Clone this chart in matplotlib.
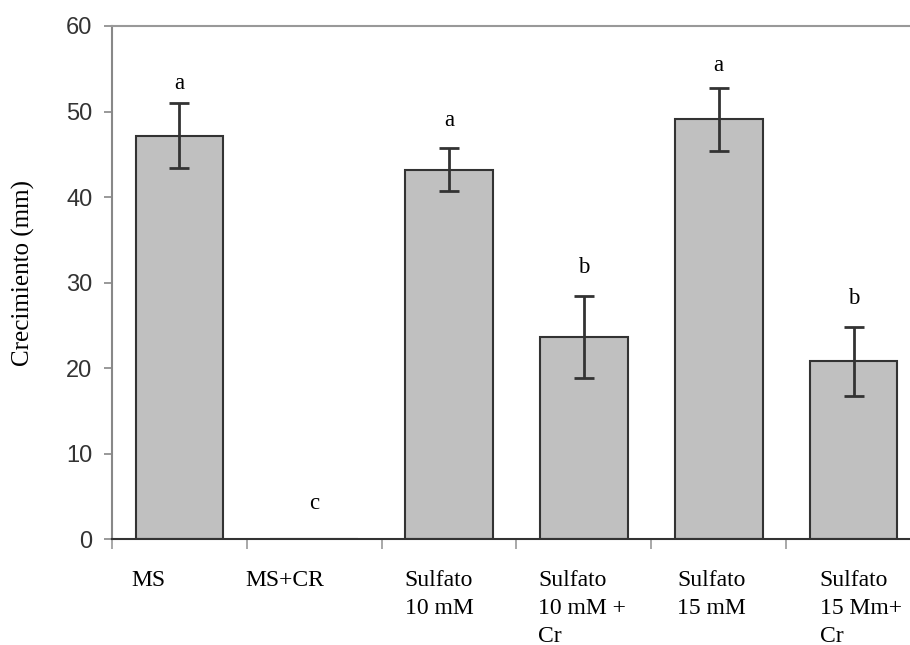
import matplotlib
matplotlib.use("Agg")
from matplotlib import pyplot as plt

# data
categories = ['MS', 'MS+CR', 'Sulfato\n10 mM', 'Sulfato\n10 mM +\nCr', 'Sulfato\n15 mM', 'Sulfato\n15 Mm+\nCr']
growth = [47.2, 0.0, 43.2, 23.6, 49.1, 20.8]
errors = [3.8, 0.0, 2.5, 4.8, 3.7, 4.0]
letters = ['a', 'c', 'a', 'b', 'a', 'b']
letter_y = [53.3, 4.2, 49.0, 31.8, 55.4, 28.2]

# small horizontal nudges of the category labels (left aligned)
label_shift = [-0.36, -0.51, -0.33, -0.34, -0.31, -0.25]

SERIF = 'Liberation Serif'
SANS = 'Liberation Sans'

fig = plt.figure(figsize=(9.10, 6.45), dpi=100)
ax = fig.add_axes([112 / 910, (645 - 539.3) / 645, (921 - 112) / 910, 513.3 / 645])

x = list(range(len(categories)))
ax.bar(x, growth, width=0.65, color='#c0c0c0', edgecolor='#333333', linewidth=1.5, zorder=2)
ax.errorbar(x[:1] + x[2:], growth[:1] + growth[2:], yerr=errors[:1] + errors[2:],
            fmt='none', ecolor='#333333', elinewidth=2, capsize=7, capthick=2, zorder=3)

for i, (lt, ly) in enumerate(zip(letters, letter_y)):
    ax.text(i, ly, lt, ha='center', va='center', fontsize=16.5, family=SERIF)

for i, lab in enumerate(categories):
    ax.annotate(lab, xy=(i + label_shift[i], 0), xycoords=ax.get_xaxis_transform(),
                xytext=(0, -22), textcoords='offset points', ha='left', va='top',
                fontsize=17, family=SERIF, linespacing=1.45)

ax.set_xlim(-0.5, 5.5)
ax.set_ylim(0, 60)
ax.set_yticks([0, 10, 20, 30, 40, 50, 60])
ax.set_xticks([-0.5, 0.5, 1.5, 2.5, 3.5, 4.5])
ax.set_xticklabels([])
ax.tick_params(axis='y', direction='out', length=6, width=1.2, color='#888888',
               labelsize=17, labelcolor='#333333', pad=8)
ax.tick_params(axis='x', direction='out', length=7, width=1.2, color='#999999')
for t in ax.get_yticklabels():
    t.set_family(SANS)

ax.spines['right'].set_visible(False)
ax.spines['left'].set_color('#888888')
ax.spines['left'].set_linewidth(1.5)
ax.spines['top'].set_color('#999999')
ax.spines['top'].set_linewidth(1.5)
ax.spines['bottom'].set_color('#333333')
ax.spines['bottom'].set_linewidth(1.5)

fig.text(23 / 910, 1 - 273 / 645, 'Crecimiento (mm)', rotation=90, ha='center', va='center',
         fontsize=18, family=SERIF)

fig.savefig('out.png', dpi=100)
